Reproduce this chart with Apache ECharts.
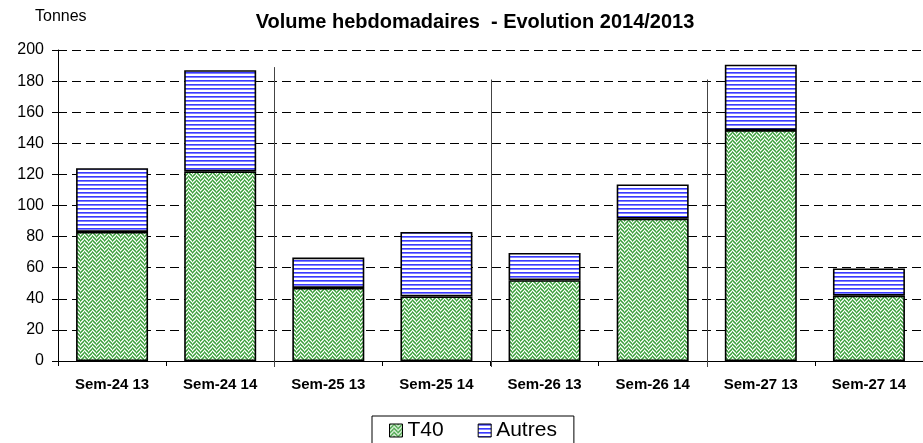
<!DOCTYPE html>
<html>
<head>
<meta charset="utf-8">
<script src="https://cdn.jsdelivr.net/npm/echarts@6/dist/echarts.min.js"></script>
<style>
  html, body { margin: 0; padding: 0; background: #fff; }
  #chart { width: 923px; height: 443px; }
</style>
</head>
<body>
<div id="chart"></div>
<script>
// données
var categories = ['Sem-24 13', 'Sem-24 14', 'Sem-25 13', 'Sem-25 14', 'Sem-26 13', 'Sem-26 14', 'Sem-27 13', 'Sem-27 14'];
var t40 = [83, 122, 47, 41.5, 52, 91.5, 148.5, 42];
var autres = [41, 65, 19.5, 41.5, 17.5, 22, 42, 17.5];
// séparateurs entre semaines (après l'index de catégorie, hauteur du haut)
var sepIndex = [1, 3, 5];
var sepTop = [189, 181, 181];
var yTicks = [0, 200, 20]; // min, max, pas

// motif vert (T40)
function makeGreen() {
  var c = document.createElement('canvas');
  c.width = 8; c.height = 8;
  var ctx = c.getContext('2d');
  ctx.fillStyle = '#fff';
  ctx.fillRect(0, 0, 8, 8);
  var cols = ['#3f9a3f', '#72bf72', '#fff', '#a8dca8'];
  for (var y = 0; y < 8; y++) {
    for (var x = 0; x < 8; x++) {
      var k = x < 4 ? (x + y) % 4 : ((x - y) % 4 + 4) % 4;
      ctx.fillStyle = cols[k];
      ctx.fillRect(x, y, 1, 1);
    }
  }
  return c;
}
// motif rayé bleu (Autres)
function makeBlue() {
  var c = document.createElement('canvas');
  c.width = 4; c.height = 4;
  var ctx = c.getContext('2d');
  ctx.fillStyle = '#fff';
  ctx.fillRect(0, 0, 4, 4);
  ctx.fillStyle = '#3a3aff';
  ctx.fillRect(0, 0, 4, 1);
  ctx.fillStyle = '#8080ff';
  ctx.fillRect(0, 1, 4, 1);
  return c;
}

var greenPat = { image: makeGreen(), repeat: 'repeat' };
var bluePat = { image: makeBlue(), repeat: 'repeat' };

var sepData = sepIndex.map(function (v, i) { return [v, sepTop[i]]; });

var myChart = echarts.init(document.getElementById('chart'));
var option = {
  animation: false,
  textStyle: { fontFamily: 'Liberation Sans, Arial, sans-serif', color: '#000' },
  title: {
    text: 'Volume hebdomadaires  - Evolution 2014/2013',
    left: 470, top: 7, textAlign: 'center',
    textStyle: { fontSize: 20, fontWeight: 'bold', color: '#000' }
  },
  graphic: [{
    type: 'text', left: 35, top: 9,
    style: { text: 'Tonnes', fontSize: 16, fill: '#000', fontFamily: 'Liberation Sans, Arial, sans-serif' }
  }],
  legend: {
    data: ['T40', 'Autres'],
    left: 372, top: 416,
    padding: [4, 17, 6, 17],
    itemGap: 34,
    icon: 'rect',
    itemWidth: 13, itemHeight: 13,
    borderColor: '#000', borderWidth: 1,
    itemStyle: { borderColor: '#000', borderWidth: 1 },
    textStyle: { fontSize: 21, color: '#000' }
  },
  grid: { left: 58, top: 50, width: 869, bottom: 82 },
  xAxis: {
    type: 'category',
    data: categories,
    axisLine: { lineStyle: { color: '#000', width: 1 } },
    axisTick: { show: true, length: 5, lineStyle: { color: '#000' } },
    axisLabel: { margin: 16, fontSize: 15, fontWeight: 'bold', color: '#000' }
  },
  yAxis: {
    type: 'value',
    min: yTicks[0], max: yTicks[1], interval: yTicks[2],
    axisLine: { show: true, lineStyle: { color: '#000' } },
    axisTick: { show: true, length: 6, lineStyle: { color: '#000' } },
    axisLabel: { margin: 14, fontSize: 16, color: '#000' },
    splitLine: { lineStyle: { color: '#000', type: [9, 5], width: 1 } }
  },
  series: [
    {
      name: 'T40', type: 'bar', stack: 'v', barWidth: 72, data: t40,
      itemStyle: { color: greenPat, borderColor: '#000', borderWidth: 1.6 }
    },
    {
      name: 'Autres', type: 'bar', stack: 'v', barWidth: 72, data: autres,
      itemStyle: { color: bluePat, borderColor: '#000', borderWidth: 1.6 }
    },
    {
      name: 'sep', type: 'custom', silent: true, data: sepData,
      renderItem: function (params, api) {
        var top = api.coord([api.value(0), api.value(1)]);
        var base = api.coord([api.value(0), 0]);
        var w = api.size([1, 0])[0];
        var x = Math.round(top[0] + w / 2) + 0.5;
        return {
          type: 'line',
          shape: { x1: x, y1: top[1], x2: x, y2: base[1] + 6 },
          style: { stroke: '#444', lineWidth: 1 }
        };
      }
    }
  ]
};
myChart.setOption(option);
</script>
</body>
</html>
